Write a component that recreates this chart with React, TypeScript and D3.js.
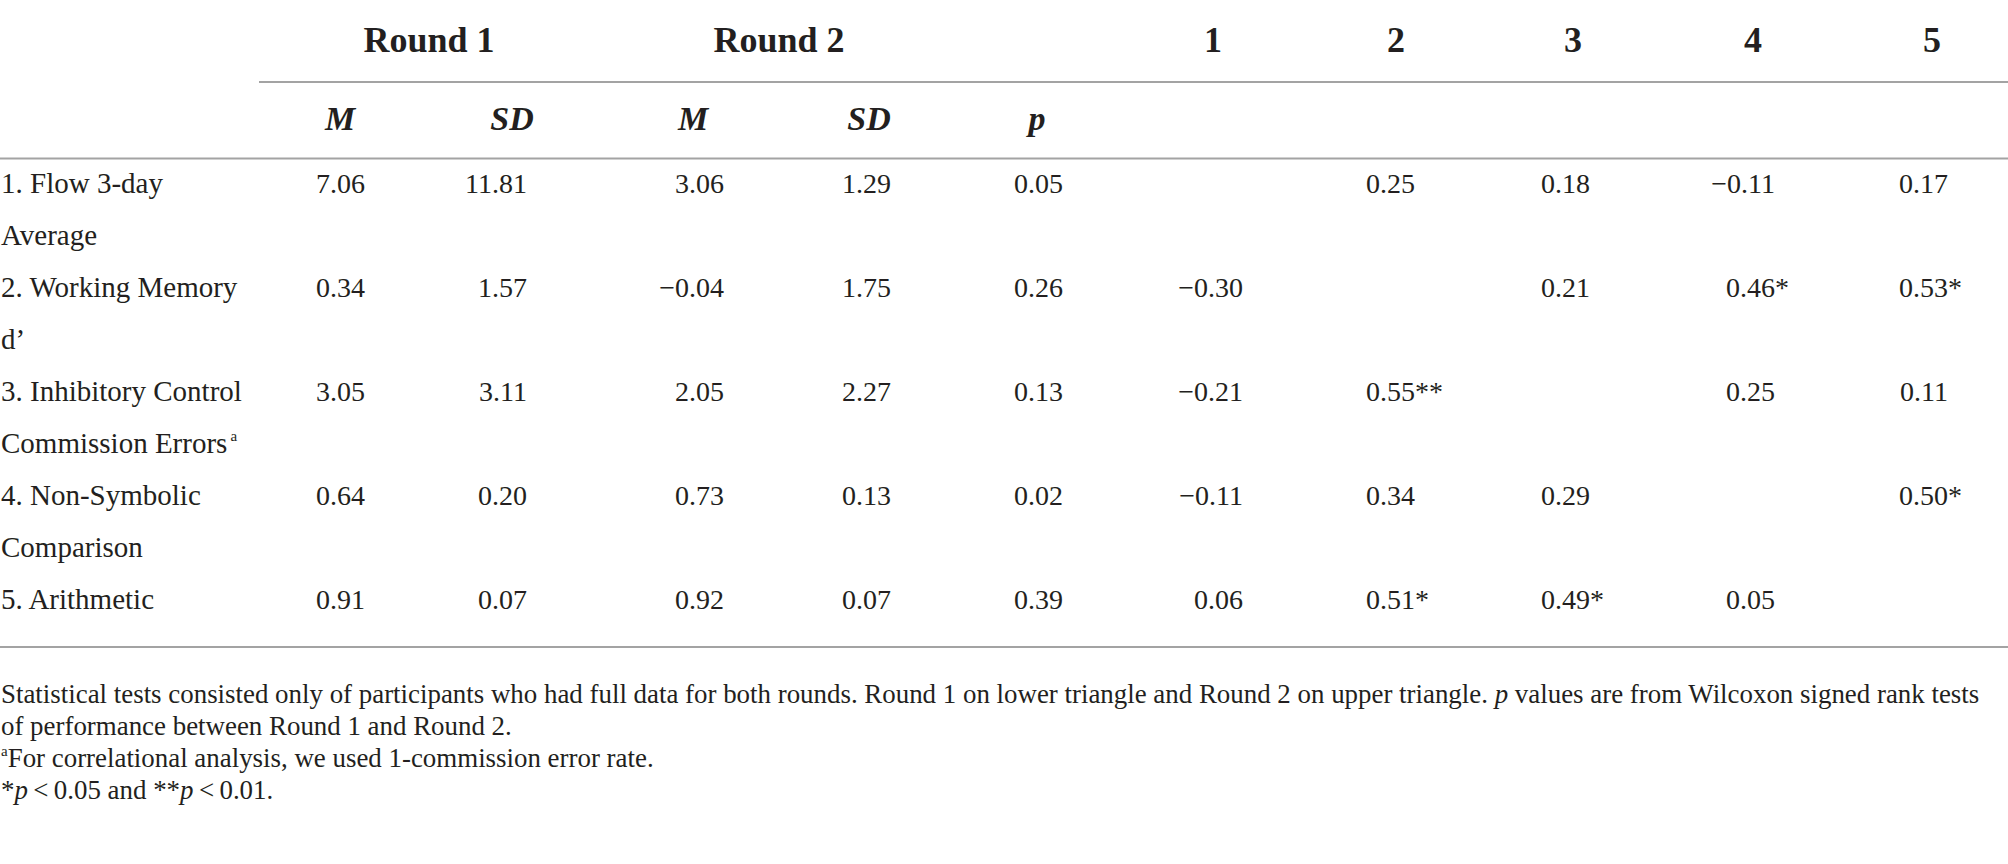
import React from "react";
import * as d3 from "d3";

// table values
const rowLabels = [
  ["1. Flow 3-day", "Average"],
  ["2. Working Memory", "d\u2019"],
  ["3. Inhibitory Control", "Commission Errors"],
  ["4. Non-Symbolic", "Comparison"],
  ["5. Arithmetic"],
];
const round1M = [7.06, 0.34, 3.05, 0.64, 0.91];
const round1SD = [11.81, 1.57, 3.11, 0.2, 0.07];
const round2M = [3.06, -0.04, 2.05, 0.73, 0.92];
const round2SD = [1.29, 1.75, 2.27, 0.13, 0.07];
const pValues = [0.05, 0.26, 0.13, 0.02, 0.39];

// correlation matrix, null on the diagonal
const corr = [
  [null, 0.25, 0.18, -0.11, 0.17],
  [-0.3, null, 0.21, 0.46, 0.53],
  [-0.21, 0.55, null, 0.25, 0.11],
  [-0.11, 0.34, 0.29, null, 0.5],
  [0.06, 0.51, 0.49, 0.05, null],
];
// number of significance stars per cell
const stars = [
  [0, 0, 0, 0, 0],
  [0, 0, 0, 1, 1],
  [0, 2, 0, 0, 0],
  [0, 0, 0, 0, 1],
  [0, 1, 1, 0, 0],
];

const groupHeads = ["Round 1", "Round 2", "1", "2", "3", "4", "5"];
const subHeads = ["M", "SD", "M", "SD", "p"];
const statCols = ["r1M", "r1SD", "r2M", "r2SD", "p"];
const corrCols = ["c1", "c2", "c3", "c4", "c5"];

const W = 2008;
const H = 864;
const FONT = "'Liberation Serif', 'Times New Roman', serif";
const INK = "#231f20";
const RULE = "#a3a3a3";

export default function App() {
  const fmt = d3.format(".2f");

  // right edge of the digits in each column
  const colRight = d3
    .scaleOrdinal<string, number>()
    .domain([...statCols, ...corrCols])
    .range([365, 527, 724, 891, 1063, 1243, 1415, 1590, 1775, 1948]);

  const groupX = d3
    .scaleOrdinal<string, number>()
    .domain(groupHeads)
    .range([429, 779, 1213, 1396, 1573, 1753, 1932]);

  const subX = d3
    .scaleOrdinal<number, number>()
    .domain(d3.range(subHeads.length))
    .range([340, 512, 693, 869, 1037]);

  const rowY = d3.scaleLinear().domain([0, 4]).range([193, 609]);
  const lineGap = 52;

  const statData = [round1M, round1SD, round2M, round2SD, pValues];

  const cell = (key: string, x: number, y: number, v: number, nStars = 0) => (
    <g key={key}>
      <text x={x} y={y} textAnchor="end">{fmt(v)}</text>
      {nStars > 0 && (
        <text x={x} y={y} textAnchor="start">{"*".repeat(nStars)}</text>
      )}
    </g>
  );

  const noteY = [703, 735, 767, 799];

  return (
    <div style={{ position: "absolute", left: 0, top: 0 }}>
      <svg width={W} height={H} style={{ display: "block", background: "#fff" }}>
        <g fontFamily={FONT} fill={INK}>
          {/* header row */}
          <g fontWeight="bold" textAnchor="middle">
            {groupHeads.map((h) => (
              <text key={h} x={groupX(h)} y={52} fontSize={36}>{h}</text>
            ))}
            {subHeads.map((h, i) => (
              <text key={"s" + i} x={subX(i)} y={130} fontSize={34} fontStyle="italic">{h}</text>
            ))}
          </g>

          {/* rules */}
          <line x1={259} x2={W} y1={82} y2={82} stroke={RULE} strokeWidth={2} />
          <line x1={0} x2={W} y1={158.5} y2={158.5} stroke={RULE} strokeWidth={2} />
          <line x1={0} x2={W} y1={647} y2={647} stroke={RULE} strokeWidth={2} />

          {/* body */}
          <g fontSize={28}>
            {rowLabels.map((lines, i) => (
              <g key={"lab" + i} fontSize={29}>
                {lines.map((t, j) => (
                  <text key={j} x={1} y={rowY(i) + j * lineGap}>
                    {t}
                    {i === 2 && j === 1 && (
                      <tspan fontSize={15} dy={-12}>{"\u2009a"}</tspan>
                    )}
                  </text>
                ))}
              </g>
            ))}

            {statCols.map((c, ci) =>
              statData[ci].map((v, i) => cell(c + i, colRight(c), rowY(i), v))
            )}

            {corr.map((row, i) =>
              row.map((v, j) =>
                v === null ? null : cell("c" + i + j, colRight(corrCols[j]), rowY(i), v, stars[i][j])
              )
            )}
          </g>

          {/* notes */}
          <g fontSize={26.9}>
            <text x={1} y={noteY[0]}>
              Statistical tests consisted only of participants who had full data for both rounds. Round 1 on lower triangle and Round 2 on upper triangle.{" "}
              <tspan fontStyle="italic">p</tspan> values are from Wilcoxon signed rank tests
            </text>
            <text x={1} y={noteY[1]}>of performance between Round 1 and Round 2.</text>
            <text x={1} y={noteY[2]}>
              <tspan fontSize={15} dy={-11}>a</tspan>
              <tspan dy={11}>For correlational analysis, we used 1-commission error rate.</tspan>
            </text>
            <text x={1} y={noteY[3]}>
              *<tspan fontStyle="italic">p</tspan>{"\u2009<\u20090.05 and **"}
              <tspan fontStyle="italic">p</tspan>{"\u2009<\u20090.01."}
            </text>
          </g>
        </g>
      </svg>
    </div>
  );
}
